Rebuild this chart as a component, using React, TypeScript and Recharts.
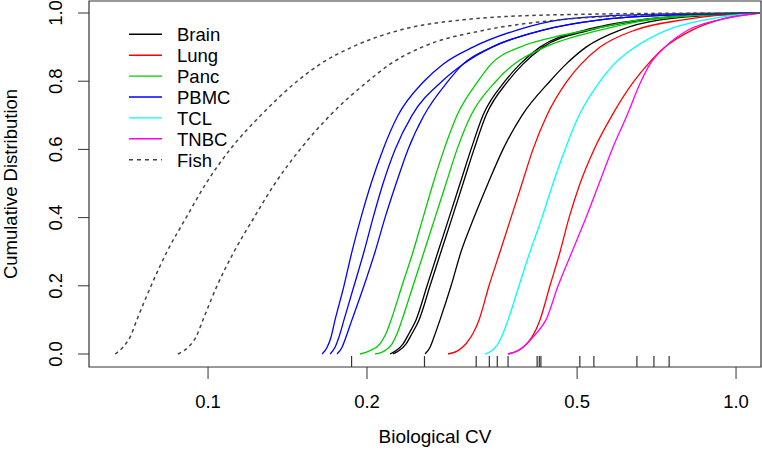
import React from 'react';
import { LineChart, Line, XAxis, YAxis, ReferenceArea, ReferenceLine, Legend } from 'recharts';

// CDF curves: [biological CV, cumulative fraction]
const brainA = [[0.2212, 0], [0.2271, 0.01], [0.2341, 0.03], [0.2402, 0.06], [0.2477, 0.1], [0.2599, 0.2], [0.2726, 0.3], [0.2861, 0.4], [0.3001, 0.5], [0.3148, 0.6], [0.3317, 0.7], [0.3651, 0.8], [0.3898, 0.85], [0.4253, 0.9], [0.5176, 0.95], [0.6579, 0.98], [1, 0.998], [1.11, 1]];
const brainB = [[0.2241, 0], [0.2301, 0.01], [0.2372, 0.03], [0.2434, 0.06], [0.251, 0.1], [0.2633, 0.2], [0.2762, 0.3], [0.2899, 0.4], [0.3041, 0.5], [0.3189, 0.6], [0.3361, 0.7], [0.3699, 0.8], [0.3949, 0.85], [0.4309, 0.9], [0.529, 0.95], [0.6725, 0.98], [1, 0.998], [1.11, 1]];
const brainC = [[0.2576, 0], [0.2633, 0.02], [0.2679, 0.05], [0.275, 0.1], [0.2886, 0.2], [0.3014, 0.3], [0.3189, 0.4], [0.339, 0.5], [0.3619, 0.6], [0.3932, 0.7], [0.4442, 0.8], [0.4765, 0.85], [0.5199, 0.9], [0.603, 0.95], [0.7179, 0.98], [1, 0.997], [1.11, 1]];
const lungA = [[0.2848, 0], [0.2975, 0.01], [0.308, 0.03], [0.3175, 0.06], [0.326, 0.1], [0.3405, 0.2], [0.3573, 0.3], [0.3748, 0.4], [0.3932, 0.5], [0.4125, 0.6], [0.4384, 0.7], [0.4786, 0.8], [0.5087, 0.85], [0.5527, 0.9], [0.6437, 0.95], [0.7936, 0.98], [0.9205, 0.993], [1.11, 1]];
const lungB = [[0.37, 0], [0.3864, 0.01], [0.3984, 0.025], [0.4108, 0.05], [0.4253, 0.1], [0.4442, 0.2], [0.4642, 0.3], [0.4828, 0.4], [0.5065, 0.5], [0.5384, 0.6], [0.5824, 0.7], [0.6409, 0.8], [0.6812, 0.85], [0.7336, 0.9], [0.8256, 0.95], [0.9408, 0.982], [1.11, 1]];
const pancA = [[0.194, 0], [0.2027, 0.01], [0.2117, 0.03], [0.2173, 0.06], [0.2222, 0.1], [0.233, 0.2], [0.2445, 0.3], [0.2554, 0.4], [0.2668, 0.5], [0.2799, 0.6], [0.2962, 0.7], [0.3246, 0.8], [0.3435, 0.85], [0.3898, 0.9], [0.454, 0.93], [0.5244, 0.95], [0.6579, 0.98], [1, 0.998], [1.11, 1]];
const pancB = [[0.2072, 0], [0.2164, 0.01], [0.2231, 0.03], [0.2281, 0.06], [0.233, 0.1], [0.2445, 0.2], [0.2565, 0.3], [0.2691, 0.4], [0.2823, 0.5], [0.2962, 0.6], [0.3148, 0.7], [0.351, 0.8], [0.3797, 0.85], [0.4346, 0.9], [0.5527, 0.95], [0.6872, 0.98], [1, 0.998], [1.11, 1]];
const pbmcA = [[0.1644, 0], [0.1681, 0.02], [0.171, 0.05], [0.174, 0.1], [0.1809, 0.2], [0.1873, 0.3], [0.1948, 0.4], [0.2036, 0.5], [0.2145, 0.6], [0.229, 0.7], [0.2565, 0.8], [0.2787, 0.85], [0.3175, 0.9], [0.3847, 0.95], [0.4642, 0.98], [0.6579, 0.995], [1, 0.999], [1.11, 1]];
const pbmcB = [[0.1703, 0], [0.174, 0.02], [0.177, 0.05], [0.1809, 0.1], [0.189, 0.2], [0.1974, 0.3], [0.2054, 0.4], [0.2145, 0.5], [0.2261, 0.6], [0.2434, 0.7], [0.2774, 0.8], [0.304, 0.85], [0.345, 0.9], [0.4308, 0.95], [0.5527, 0.98], [0.7833, 0.995], [1, 0.999], [1.11, 1]];
const pbmcC = [[0.1755, 0], [0.1794, 0.02], [0.1825, 0.05], [0.1873, 0.1], [0.1974, 0.2], [0.2072, 0.3], [0.2164, 0.4], [0.2271, 0.5], [0.2392, 0.6], [0.2565, 0.7], [0.2848, 0.8], [0.304, 0.85], [0.345, 0.9], [0.4308, 0.95], [0.5527, 0.98], [0.7833, 0.995], [1, 0.999], [1.11, 1]];
const tclA = [[0.3346, 0], [0.345, 0.01], [0.3542, 0.03], [0.3619, 0.06], [0.37, 0.1], [0.3881, 0.2], [0.4072, 0.3], [0.429, 0.4], [0.4501, 0.5], [0.4744, 0.6], [0.5043, 0.7], [0.5527, 0.8], [0.5874, 0.85], [0.6437, 0.9], [0.74, 0.95], [0.8739, 0.98], [1, 0.994], [1.11, 1]];
const tnbcA = [[0.37, 0], [0.3864, 0.01], [0.3984, 0.025], [0.4125, 0.05], [0.4235, 0.07], [0.4365, 0.1], [0.4602, 0.2], [0.4891, 0.3], [0.5199, 0.4], [0.5503, 0.5], [0.5824, 0.6], [0.6217, 0.7], [0.6608, 0.8], [0.6872, 0.85], [0.7336, 0.9], [0.8113, 0.95], [0.9408, 0.982], [1.11, 1]];
const fishA = [[0.0667, 0], [0.069, 0.02], [0.0712, 0.05], [0.0733, 0.1], [0.078, 0.2], [0.0836, 0.3], [0.0909, 0.4], [0.0991, 0.5], [0.1101, 0.6], [0.1259, 0.7], [0.1475, 0.8], [0.163, 0.85], [0.1873, 0.9], [0.231, 0.95], [0.304, 0.98], [0.4642, 0.995], [1, 1], [1.11, 1]];
const fishB = [[0.0877, 0], [0.0917, 0.02], [0.0949, 0.05], [0.0978, 0.1], [0.104, 0.2], [0.112, 0.3], [0.1222, 0.4], [0.1339, 0.5], [0.1494, 0.6], [0.1703, 0.7], [0.2009, 0.8], [0.2212, 0.85], [0.2543, 0.9], [0.3346, 0.95], [0.4642, 0.98], [0.6872, 0.995], [1, 1], [1.11, 1]];

// rug marks along the bottom
const rugValues = [0.187, 0.257, 0.322, 0.341, 0.353, 0.37, 0.42, 0.424, 0.427, 0.506, 0.538, 0.649, 0.699, 0.747];

const xTicks = [0.1, 0.2, 0.5, 1.0];
const yTicks = [0, 0.2, 0.4, 0.6, 0.8, 1.0];

const groups = ['Brain', 'Lung', 'Panc', 'PBMC', 'TCL', 'TNBC', 'Fish'];
const groupColors = ['#000000', '#FF0000', '#00CD00', '#0000FF', '#00FFFF', '#FF00FF', '#444444'];

const curves = [
  { id: 'brainA', group: 'Brain', points: brainA },
  { id: 'brainB', group: 'Brain', points: brainB },
  { id: 'brainC', group: 'Brain', points: brainC },
  { id: 'lungA', group: 'Lung', points: lungA },
  { id: 'lungB', group: 'Lung', points: lungB },
  { id: 'pancA', group: 'Panc', points: pancA },
  { id: 'pancB', group: 'Panc', points: pancB },
  { id: 'pbmcA', group: 'PBMC', points: pbmcA },
  { id: 'pbmcB', group: 'PBMC', points: pbmcB },
  { id: 'pbmcC', group: 'PBMC', points: pbmcC },
  { id: 'tclA', group: 'TCL', points: tclA },
  { id: 'tnbcA', group: 'TNBC', points: tnbcA },
  { id: 'fishA', group: 'Fish', points: fishA },
  { id: 'fishB', group: 'Fish', points: fishB },
];

const FONT = '"Liberation Sans", Arial, Helvetica, sans-serif';
const AXIS = '#333333';
const X_DOMAIN = [0.0595, 1.115];
const Y_DOMAIN = [-0.0381, 1.0352];

const colorOf = (g: string) => groupColors[groups.indexOf(g)];

function XTick({ x, y, payload }: any) {
  return (
    <text x={x} y={y + 29} textAnchor="middle" fontSize={18.5} fontFamily={FONT} fill="#000">
      {Number(payload.value).toFixed(1)}
    </text>
  );
}

function YTick({ x, y, payload }: any) {
  const tx = x - 16;
  return (
    <text x={tx} y={y} transform={`rotate(-90, ${tx}, ${y})`} textAnchor="middle" fontSize={18.5} fontFamily={FONT} fill="#000">
      {Number(payload.value).toFixed(1)}
    </text>
  );
}

function XTitle(props: any) {
  const vb = props.viewBox || { x: 89, y: 367, width: 672, height: 83 };
  return (
    <text x={vb.x + vb.width / 2 + 10} y={vb.y + 76} textAnchor="middle" fontSize={19} fontFamily={FONT} fill="#000">
      Biological CV
    </text>
  );
}

function YTitle(props: any) {
  const vb = props.viewBox || { x: 0, y: 1, width: 89, height: 366 };
  const cy = vb.y + vb.height / 2;
  return (
    <text x={17} y={cy} transform={`rotate(-90, 17, ${cy})`} textAnchor="middle" fontSize={18.5} fontFamily={FONT} fill="#000">
      Cumulative Distribution
    </text>
  );
}

function LegendBox() {
  return (
    <svg width={140} height={160} style={{ display: 'block' }}>
      {groups.map((g, i) => {
        const ly = 14.3 + i * 20.9;
        return (
          <g key={g}>
            <line x1={9} x2={42} y1={ly} y2={ly} stroke={colorOf(g)} strokeWidth={1.4}
              strokeDasharray={g === 'Fish' ? '4 4' : undefined} />
            <text x={57} y={ly + 7} fontSize={18.5} fontFamily={FONT} fill="#000">{g}</text>
          </g>
        );
      })}
    </svg>
  );
}

export default function App() {
  return (
    <div style={{ position: 'absolute', left: 0, top: 0, background: '#fff' }}>
      <LineChart width={762} height={450} margin={{ top: 1, right: 1, bottom: 0, left: 0 }}>
        <XAxis
          dataKey="x"
          type="number"
          scale="log"
          domain={X_DOMAIN}
          allowDataOverflow
          ticks={xTicks}
          tick={<XTick />}
          tickSize={12}
          tickMargin={0}
          tickLine={{ stroke: AXIS }}
          axisLine={false}
          height={83}
          interval={0}
          label={<XTitle />}
        />
        <YAxis
          type="number"
          domain={Y_DOMAIN}
          allowDataOverflow
          ticks={yTicks}
          tick={<YTick />}
          tickSize={11}
          tickMargin={0}
          tickLine={{ stroke: AXIS }}
          axisLine={false}
          width={89}
          interval={0}
          label={<YTitle />}
        />
        <ReferenceArea x1={X_DOMAIN[0]} x2={X_DOMAIN[1]} y1={Y_DOMAIN[0]} y2={Y_DOMAIN[1]}
          fill="none" fillOpacity={0} stroke={AXIS} strokeWidth={1.2} ifOverflow="visible" />
        {rugValues.map((v, i) => (
          <ReferenceLine key={`rug-${i}`} segment={[{ x: v, y: Y_DOMAIN[0] }, { x: v, y: -0.006 }]}
            stroke={AXIS} strokeWidth={1.2} ifOverflow="visible" />
        ))}
        {curves.map((c) => (
          <Line
            key={c.id}
            data={c.points.map(([x, y]) => ({ x, y }))}
            dataKey="y"
            name={c.group}
            type="monotone"
            stroke={colorOf(c.group)}
            strokeWidth={c.group === 'Fish' ? 1.5 : 1.3}
            strokeDasharray={c.group === 'Fish' ? '3.5 3.5' : undefined}
            dot={false}
            activeDot={false}
            isAnimationActive={false}
          />
        ))}
        <Legend layout="vertical" align="center" verticalAlign="middle"
          wrapperStyle={{ left: 120, top: 20, width: 140, height: 160 }}
          content={() => <LegendBox />} />
      </LineChart>
    </div>
  );
}
